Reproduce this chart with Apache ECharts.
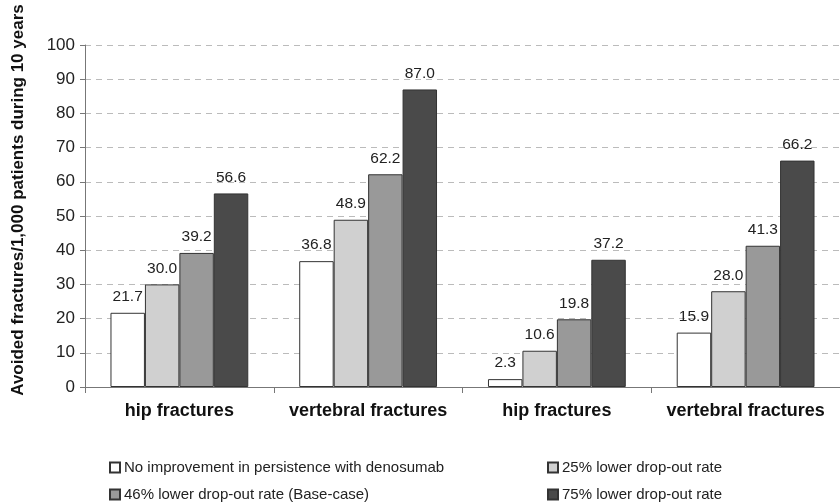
<!DOCTYPE html>
<html>
<head>
<meta charset="utf-8">
<script src="https://cdn.jsdelivr.net/npm/echarts@6/dist/echarts.min.js"></script>
<style>
  html, body { margin: 0; padding: 0; background: #fff; }
  #chart { width: 840px; height: 503px; }
</style>
</head>
<body>
<div id="chart"></div>
<script>
const categories = ['hip fractures', 'vertebral fractures', 'hip fractures ', 'vertebral fractures ']
const seriesNames = [
  'No improvement in persistence with denosumab',
  '25% lower drop-out rate',
  '46% lower drop-out rate (Base-case)',
  '75% lower drop-out rate'
]
const noImprovement = [21.7, 36.8, 2.3, 15.9]
const lower25 = [30.0, 48.9, 10.6, 28.0]
const lower46 = [39.2, 62.2, 19.8, 41.3]
const lower75 = [56.6, 87.0, 37.2, 66.2]
const yTicks = [0, 10, 20, 30, 40, 50, 60, 70, 80, 90, 100]

const colors = ['#ffffff', '#d0d0d0', '#999999', '#4a4a4a']
const values = [noImprovement, lower25, lower46, lower75]
const font = 'Liberation Sans, Arial, sans-serif'

const chart = echarts.init(document.getElementById('chart'))

const series = values.map((v, i) => ({
  name: seriesNames[i],
  type: 'bar',
  data: v,
  barGap: '0%',
  barCategoryGap: '27%',
  itemStyle: { color: colors[i], borderColor: '#333', borderWidth: 1 },
  label: {
    show: true,
    position: 'top',
    distance: 8,
    formatter: p => p.value.toFixed(1),
    fontFamily: font,
    fontSize: 15.5,
    color: '#222'
  }
}))

const legendPos = [
  { left: 104, top: 455 },
  { left: 542, top: 455 },
  { left: 104, top: 482 },
  { left: 542, top: 482 }
]

const option = {
  animation: false,
  grid: { left: 85, right: -5, top: 45, bottom: 116 },
  legend: seriesNames.map((n, i) => ({
    data: [n],
    left: legendPos[i].left,
    top: legendPos[i].top,
    icon: 'rect',
    itemWidth: 10,
    itemHeight: 10,
    itemGap: 0,
    textStyle: { fontFamily: font, fontSize: 15, color: '#222', padding: [0, 0, 0, -1] }
  })),
  xAxis: {
    type: 'category',
    data: categories,
    axisLine: { lineStyle: { color: '#777' } },
    axisTick: { show: true, interval: 0, length: 6, lineStyle: { color: '#777' } },
    axisLabel: {
      interval: 0,
      margin: 15,
      fontFamily: font,
      fontSize: 18,
      fontWeight: 'bold',
      color: '#111',
      formatter: s => s.trim()
    }
  },
  yAxis: {
    type: 'value',
    min: 0,
    max: 100,
    interval: 10,
    name: 'Avoided fractures/1,000 patients during 10 years',
    nameLocation: 'middle',
    nameGap: 58,
    nameTextStyle: {
      fontFamily: font,
      fontSize: 17,
      fontWeight: 'bold',
      color: '#111',
      padding: [0, 0, 0, 32]
    },
    axisLine: { show: true, lineStyle: { color: '#777' } },
    axisTick: { show: true, length: 5, lineStyle: { color: '#777' } },
    axisLabel: {
      margin: 10,
      fontFamily: font,
      fontSize: 17,
      color: '#222',
      formatter: v => (yTicks.includes(v) ? String(v) : '')
    },
    splitLine: { lineStyle: { color: '#bbb', type: [6, 5] } }
  },
  series: series
}

chart.setOption(option)
</script>
</body>
</html>
